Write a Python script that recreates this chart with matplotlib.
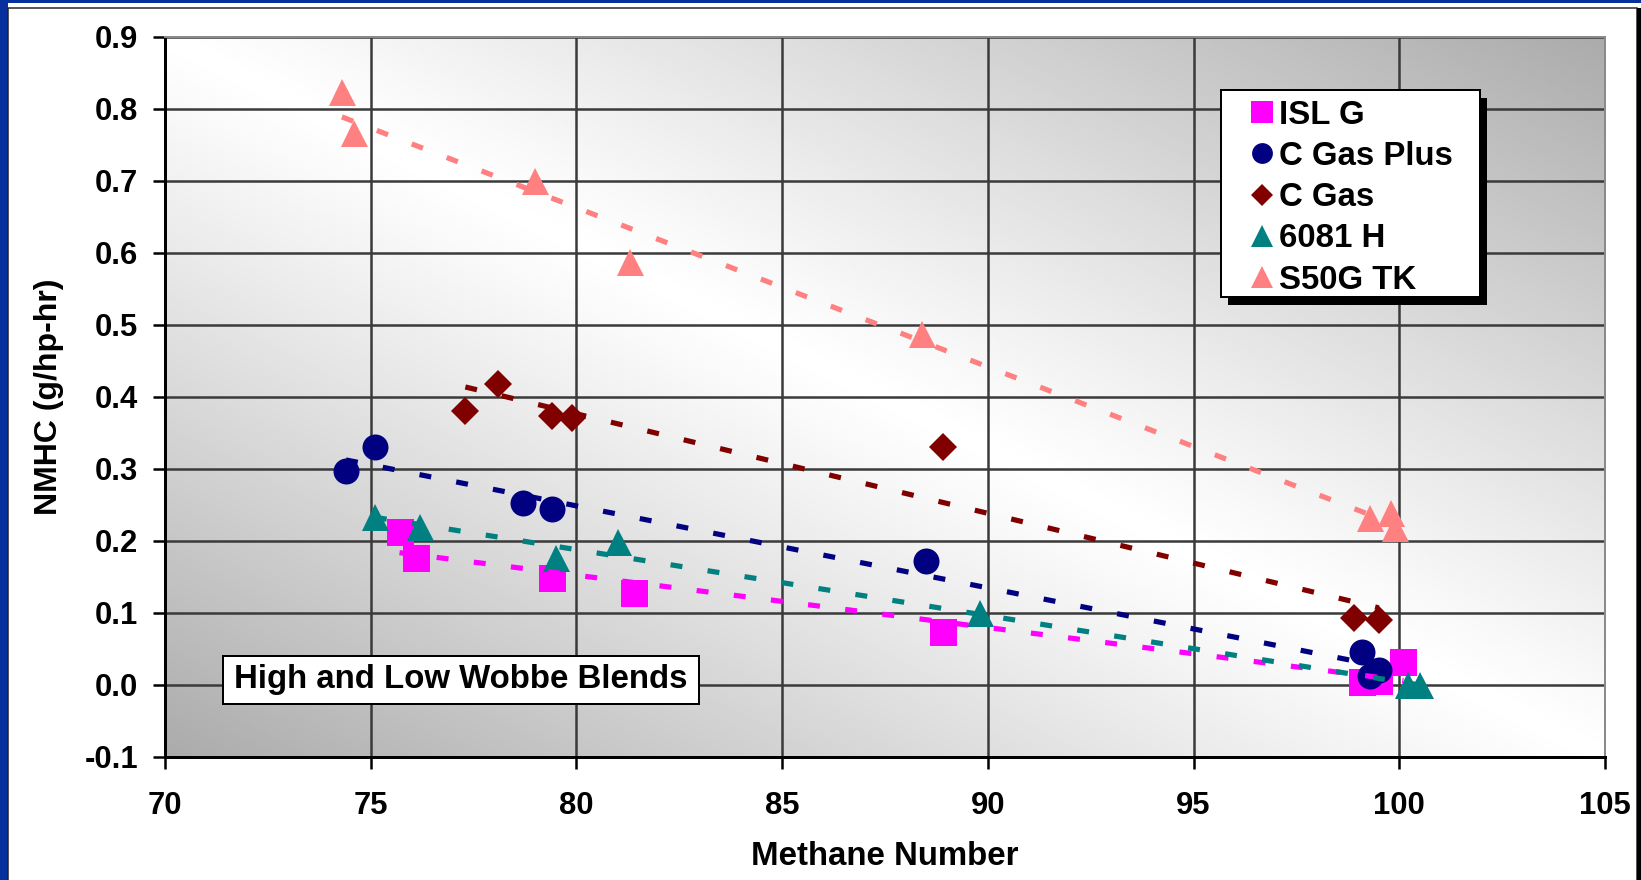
import numpy as np
import matplotlib
matplotlib.use("Agg")
import matplotlib.pyplot as plt
from matplotlib.patches import Rectangle

# donnees
isl_x = [75.7, 76.1, 79.4, 81.4, 88.9, 99.1, 99.5, 100.1]
isl_y = [0.212, 0.177, 0.149, 0.128, 0.074, 0.004, 0.006, 0.032]

cgp_x = [74.4, 75.1, 78.7, 79.4, 88.5, 99.1, 99.3, 99.5]
cgp_y = [0.297, 0.330, 0.253, 0.244, 0.172, 0.046, 0.012, 0.021]

cg_x = [77.3, 78.1, 79.4, 79.9, 88.9, 98.9, 99.5]
cg_y = [0.380, 0.418, 0.373, 0.371, 0.331, 0.093, 0.090]

h_x = [75.1, 76.2, 79.5, 81.0, 89.8, 100.2, 100.5]
h_y = [0.234, 0.219, 0.176, 0.199, 0.100, 0.0, 0.0]

s50_x = [74.3, 74.6, 79.0, 81.3, 88.4, 99.3, 99.8, 99.9]
s50_y = [0.823, 0.766, 0.700, 0.587, 0.487, 0.232, 0.239, 0.218]

labels = ['ISL G', 'C Gas Plus', 'C Gas', '6081 H', 'S50G TK']
x_ticks = [70, 75, 80, 85, 90, 95, 100, 105]
y_ticks = [-0.1, 0.0, 0.1, 0.2, 0.3, 0.4, 0.5, 0.6, 0.7, 0.8, 0.9]

series = [
    (isl_x, isl_y, '#FF00FF', 's', 27),
    (cgp_x, cgp_y, '#000080', 'o', 26),
    (cg_x, cg_y, '#800000', 'D', 20),
    (h_x, h_y, '#008080', '^', 27),
    (s50_x, s50_y, '#FF8080', '^', 27),
]

plt.rcParams['font.family'] = ['Liberation Sans', 'DejaVu Sans']
plt.rcParams['font.weight'] = 'bold'

fig = plt.figure(figsize=(1641 / 72, 880 / 72), dpi=72)
ax = fig.add_axes([165 / 1641, 1 - 757 / 880, 1440 / 1641, 720 / 880])

# fond en degrade (clair sur la diagonale, gris dans les coins)
s, t = np.meshgrid(np.linspace(0, 1, 400), np.linspace(0, 1, 300))
d = np.abs(s + t - 1)
bg = 1 - 0.33 * d ** 1.1
ax.imshow(bg, extent=[70, 105, -0.1, 0.9], origin='lower', aspect='auto',
          cmap='gray', vmin=0, vmax=1, zorder=0, interpolation='bilinear')

# points
for (x, y, c, m, ms), lab in zip(series, labels):
    ax.plot(x, y, linestyle='none', marker=m, markersize=ms, color=c,
            markeredgewidth=0, label=lab, zorder=3)

# droites de tendance
for x, y, c, m, ms in series:
    a, b = np.polyfit(x, y, 1)
    xx = np.array([min(x), max(x)])
    ax.plot(xx, a * xx + b, color=c, lw=5.2, linestyle=(0, (2.3, 4.9)),
            dash_capstyle='butt', zorder=4)

ax.set_xlim(70, 105)
ax.set_ylim(-0.1, 0.9)
ax.set_xticks(x_ticks)
ax.set_yticks(y_ticks)
ax.set_yticklabels([f'{v:.1f}' for v in y_ticks])
ax.tick_params(axis='both', direction='out', length=12, width=2.5,
               labelsize=31, color='black')
ax.tick_params(axis='y', pad=15)
ax.tick_params(axis='x', pad=22)

ax.grid(True, color='#3a3a3a', lw=2.5)
ax.set_axisbelow(True)
for sp in ['left', 'bottom']:
    ax.spines[sp].set_color('black')
    ax.spines[sp].set_linewidth(3)
for sp in ['top', 'right']:
    ax.spines[sp].set_color('#8a8a8a')
    ax.spines[sp].set_linewidth(2)

ax.set_xlabel('Methane Number', fontsize=33, fontweight='bold', labelpad=20)
ax.set_ylabel('NMHC (g/hp-hr)', fontsize=32, fontweight='bold', labelpad=20)

# cartouche de texte
ax.add_patch(Rectangle((0.0403, 0.0736), 0.3306, 0.0667, transform=ax.transAxes,
                       facecolor='white', edgecolor='black', lw=2, zorder=6))
ax.text(0.2056, 0.107, 'High and Low Wobbe Blends', transform=ax.transAxes,
        ha='center', va='center', fontsize=33, fontweight='bold', zorder=6.5)

# cadre de legende avec ombre noire
ax.add_patch(Rectangle((0.7333 + 0.0049, 0.6389 - 0.0111), 0.1799, 0.2875,
                       transform=ax.transAxes, facecolor='black',
                       edgecolor='none', zorder=6.8))
ax.add_patch(Rectangle((0.7333, 0.6389), 0.1799, 0.2875, transform=ax.transAxes,
                       facecolor='white', edgecolor='black', lw=2, zorder=6.9))

leg = ax.legend(loc='upper left', bbox_to_anchor=(0.7535, 0.913),
                borderaxespad=0, borderpad=0, fontsize=33, markerscale=0.8,
                handlelength=0.7, handletextpad=0.18, labelspacing=0.31,
                frameon=False)
leg.set_zorder(7)

# cadre de la diapo
fig.patches.append(Rectangle((0, 0), 8 / 1641, 1, transform=fig.transFigure,
                             facecolor='#06319c', edgecolor='none'))
fig.patches.append(Rectangle((0, 1 - 3 / 880), 1, 3 / 880, transform=fig.transFigure,
                             facecolor='#06319c', edgecolor='none'))
fig.patches.append(Rectangle((8 / 1641, -0.01), (1637 - 8) / 1641, 1.01 - 8 / 880,
                             transform=fig.transFigure, facecolor='none',
                             edgecolor='#222222', lw=1.5))
fig.patches.append(Rectangle((1637 / 1641, 0), 4 / 1641, 1 - 8 / 880,
                             transform=fig.transFigure, facecolor='black',
                             edgecolor='none'))

fig.savefig('out.png', dpi=72, facecolor='white')
